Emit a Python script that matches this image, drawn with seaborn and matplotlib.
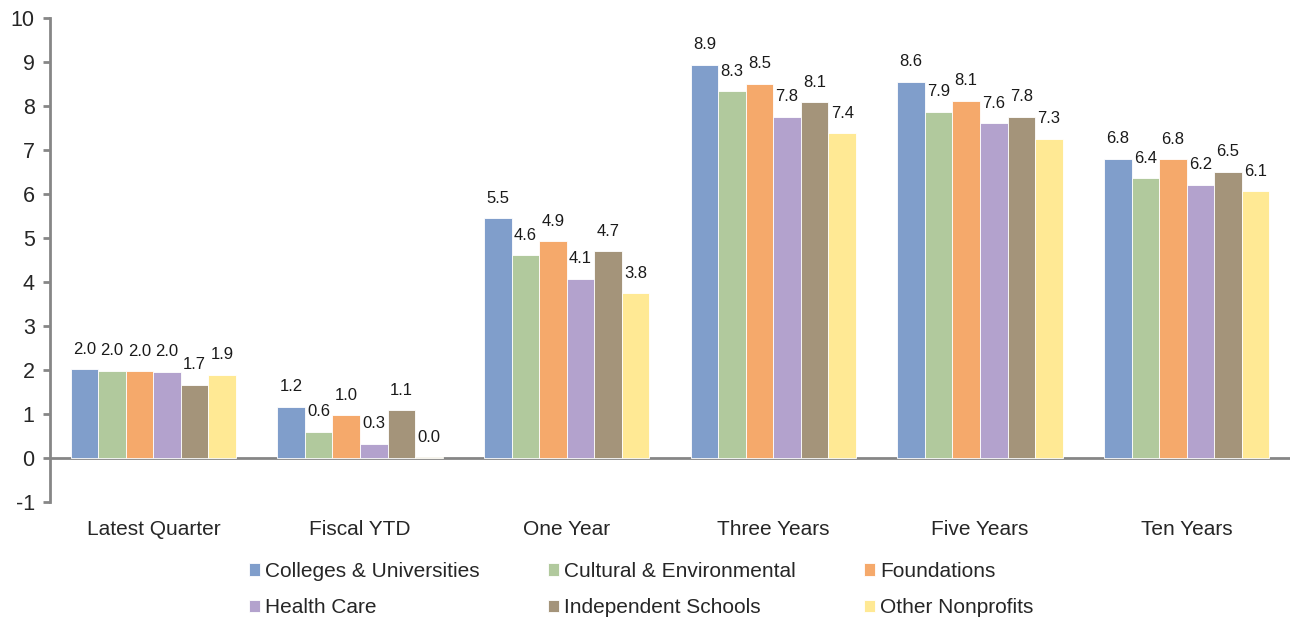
import matplotlib
matplotlib.use("Agg")
import matplotlib.pyplot as plt
import seaborn as sns
import pandas as pd

# Return periods and sector series (annualised returns, %)
periods = ["Latest Quarter", "Fiscal YTD", "One Year", "Three Years", "Five Years", "Ten Years"]
sectors = ["Colleges & Universities", "Cultural & Environmental", "Foundations",
           "Health Care", "Independent Schools", "Other Nonprofits"]

colleges = [2.02, 1.17, 5.45, 8.94, 8.55, 6.80]
cultural = [1.98, 0.60, 4.61, 8.33, 7.87, 6.36]
foundations = [1.97, 0.97, 4.93, 8.51, 8.12, 6.79]
health_care = [1.96, 0.32, 4.07, 7.76, 7.61, 6.21]
independent = [1.66, 1.08, 4.70, 8.08, 7.76, 6.50]
other = [1.89, 0.02, 3.75, 7.38, 7.26, 6.06]

colors = ["#809ECB", "#B1C99D", "#F5A96B", "#B3A2CD", "#A4947A", "#FFE994"]
y_ticks = list(range(-1, 11))

series = [colleges, cultural, foundations, health_care, independent, other]
df = pd.DataFrame(
    [(p, s, v) for s, vals in zip(sectors, series) for p, v in zip(periods, vals)],
    columns=["period", "sector", "value"],
)

sns.set_style("white")
plt.rcParams["font.family"] = ["Liberation Sans", "DejaVu Sans"]

fig = plt.figure(figsize=(12.98, 6.21), dpi=100)
ax = fig.add_axes([50 / 1298, (621 - 502) / 621, 1240 / 1298, (502 - 18) / 621])

sns.barplot(data=df, x="period", y="value", hue="sector", order=periods,
            hue_order=sectors, palette=colors, saturation=1, width=0.8,
            edgecolor="white", linewidth=0.6, ax=ax, legend=True)

for cont in ax.containers:
    ax.bar_label(cont, fmt="%.1f", padding=9, fontsize=12, color="#1a1a1a")

grey = "#868686"
ax.set_ylim(-1, 10)
ax.set_xlim(-0.5, len(periods) - 0.5)
ax.set_yticks(y_ticks)
ax.set_yticklabels([str(t) for t in y_ticks])
ax.axhline(0, color=grey, lw=2, zorder=0.5)
for side in ["top", "right", "bottom"]:
    ax.spines[side].set_visible(False)
ax.spines["left"].set_color(grey)
ax.spines["left"].set_linewidth(2)
ax.tick_params(axis="y", length=5, width=2, color=grey, labelsize=15.5, pad=6, left=True)
ax.tick_params(axis="x", length=0, labelsize=15, pad=13)
ax.set_xlabel("")
ax.set_ylabel("")

# Legend: two rows of three, filled row-wise
handles, labels = ax.get_legend_handles_labels()
ax.get_legend().remove()
order = [0, 3, 1, 4, 2, 5]
fig.legend([handles[i] for i in order], [labels[i] for i in order],
           ncol=3, loc="upper center", bbox_to_anchor=(0.494, 0.109),
           frameon=False, fontsize=15, handlelength=0.55, handleheight=0.55,
           handletextpad=0.25, columnspacing=3.25, labelspacing=0.85,
           borderaxespad=0)

fig.savefig("out.png", dpi=100)
